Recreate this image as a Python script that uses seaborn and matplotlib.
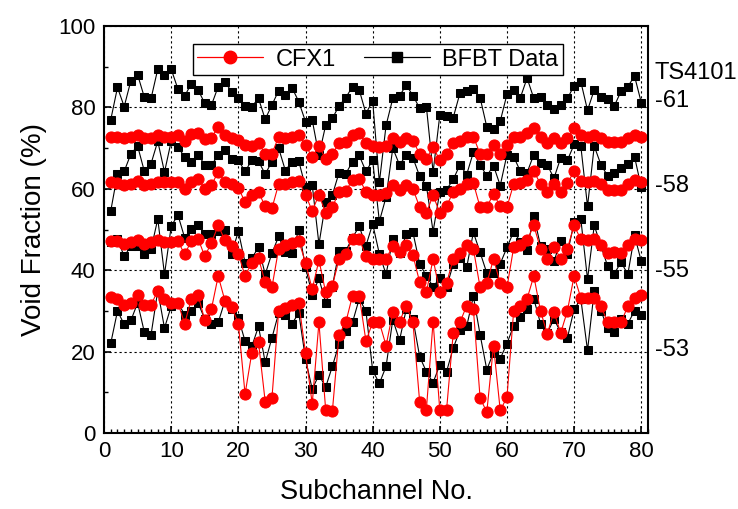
import numpy as np
import matplotlib
matplotlib.use("Agg")
import matplotlib.pyplot as plt
from matplotlib.lines import Line2D
from matplotlib.ticker import MultipleLocator
import seaborn as sns

subchannel = np.arange(1, 81)

# TS4101-61
bfbt_61 = [77.0, 84.9, 80.2, 86.6, 88.0, 82.5, 82.2, 89.4, 88.0, 89.4,
           84.5, 82.8, 85.8, 84.3, 81.0, 80.6, 85.1, 86.2, 83.9, 82.4,
           80.4, 80.2, 82.2, 77.1, 80.6, 84.1, 83.0, 84.8, 81.4, 76.5,
           76.9, 68.2, 75.6, 77.3, 80.4, 82.4, 85.1, 84.3, 78.5, 81.6,
           61.6, 75.6, 82.2, 82.8, 85.5, 82.9, 79.8, 80.2, 64.1, 78.1,
           77.9, 77.5, 83.5, 84.0, 84.5, 82.4, 75.2, 74.8, 76.6, 83.2,
           84.3, 82.4, 87.2, 82.2, 82.5, 80.7, 79.6, 80.7, 82.2, 85.3,
           86.3, 79.3, 84.3, 82.6, 82.0, 80.4, 84.0, 85.1, 87.7, 81.2]
cfx_61 = [72.8, 72.8, 72.4, 72.8, 73.2, 72.4, 72.6, 73.2, 72.8, 72.8,
          73.2, 71.8, 73.4, 73.6, 72.2, 72.6, 75.2, 73.2, 72.4, 71.9,
          70.7, 70.5, 71.2, 68.6, 68.6, 72.8, 72.4, 72.8, 73.2, 70.7,
          67.8, 70.5, 67.4, 68.6, 71.2, 71.4, 73.2, 73.6, 71.2, 70.5,
          70.3, 70.5, 72.6, 71.6, 72.6, 71.8, 68.6, 67.4, 70.3, 67.0,
          68.6, 71.2, 71.8, 72.8, 72.8, 68.6, 68.6, 70.7, 68.6, 70.7,
          72.8, 72.8, 73.6, 75.0, 72.8, 71.2, 72.6, 71.2, 72.6, 75.0,
          73.2, 72.8, 73.2, 72.6, 71.6, 71.4, 71.4, 72.6, 73.2, 72.8]

# TS4101-58
bfbt_58 = [54.6, 63.7, 64.3, 68.6, 70.5, 64.3, 66.2, 71.7, 64.1, 71.7,
           70.3, 67.8, 66.5, 68.4, 65.9, 65.9, 68.2, 69.6, 67.4, 67.0,
           64.3, 67.0, 66.8, 63.6, 66.7, 70.0, 64.5, 66.7, 66.8, 60.4,
           61.0, 46.4, 56.7, 58.5, 64.0, 63.7, 66.7, 68.2, 64.3, 67.0,
           52.0, 58.0, 70.0, 65.9, 68.2, 67.6, 63.1, 60.8, 49.5, 59.3,
           59.8, 62.3, 65.9, 63.5, 69.0, 65.9, 63.2, 65.7, 60.8, 68.4,
           67.9, 64.3, 64.0, 68.4, 66.4, 65.9, 62.6, 67.6, 67.0, 70.9,
           70.5, 55.7, 70.5, 65.9, 63.2, 64.0, 65.1, 66.0, 67.9, 60.4]
cfx_58 = [61.6, 61.5, 60.9, 61.2, 62.0, 60.9, 61.2, 61.7, 61.6, 61.6,
          61.6, 60.0, 61.7, 62.5, 60.0, 61.0, 64.1, 61.7, 61.2, 60.3,
          56.7, 58.4, 59.2, 55.7, 55.2, 61.2, 61.2, 61.7, 62.0, 58.5,
          54.6, 58.5, 54.1, 55.5, 59.3, 59.5, 62.2, 62.5, 59.3, 58.6,
          58.6, 59.1, 61.0, 59.7, 61.0, 60.0, 55.5, 54.1, 58.4, 54.1,
          55.7, 59.3, 60.0, 61.2, 61.4, 55.5, 55.5, 58.8, 55.7, 55.5,
          61.2, 61.4, 62.2, 64.3, 61.2, 59.3, 61.2, 59.3, 61.4, 64.3,
          62.0, 61.8, 62.0, 61.2, 59.7, 59.7, 59.7, 61.2, 62.2, 61.6]

# TS4101-55
bfbt_55 = [47.0, 47.7, 43.4, 46.0, 46.0, 44.0, 45.2, 52.6, 39.0, 50.8,
           53.6, 48.0, 50.2, 51.2, 48.8, 49.0, 49.6, 50.0, 44.0, 49.6,
           41.9, 43.0, 45.6, 39.0, 44.2, 48.3, 44.4, 44.2, 50.0, 40.7,
           34.0, 38.0, 32.0, 36.0, 44.8, 44.8, 48.0, 50.8, 46.0, 51.4,
           44.0, 39.0, 47.7, 44.2, 48.8, 49.3, 41.6, 38.6, 36.0, 38.0,
           35.8, 41.5, 43.0, 40.7, 49.3, 44.4, 39.3, 39.3, 41.6, 45.6,
           49.5, 47.0, 45.1, 53.4, 46.0, 45.3, 42.2, 47.2, 44.0, 51.8,
           52.6, 37.8, 51.0, 46.0, 41.0, 39.2, 42.0, 39.0, 48.6, 42.2]
cfx_55 = [47.2, 47.2, 46.5, 47.0, 47.5, 46.5, 47.0, 47.5, 47.0, 47.0,
          47.2, 43.9, 47.2, 47.8, 43.4, 46.8, 51.0, 47.4, 46.0, 44.0,
          38.6, 41.9, 43.0, 37.0, 35.8, 45.3, 46.1, 46.6, 47.2, 41.9,
          35.3, 42.5, 34.6, 36.2, 42.8, 44.0, 47.8, 47.8, 43.4, 42.8,
          42.8, 42.8, 46.0, 44.4, 46.1, 43.7, 37.1, 34.6, 42.8, 34.6,
          36.8, 42.8, 44.3, 46.1, 45.3, 35.8, 36.8, 42.8, 36.8, 35.8,
          45.6, 46.1, 47.4, 51.0, 45.3, 42.8, 45.8, 42.8, 45.3, 51.0,
          47.6, 47.4, 47.6, 46.1, 44.3, 44.4, 44.3, 46.1, 47.8, 47.4]

# TS4101-53
bfbt_53 = [22.1, 30.0, 26.7, 27.7, 32.0, 24.8, 24.2, 35.0, 25.8, 31.2,
           32.0, 29.1, 29.9, 32.0, 28.0, 26.7, 27.2, 32.5, 30.4, 28.3,
           22.6, 21.3, 26.2, 17.4, 23.4, 29.5, 29.1, 26.9, 29.5, 18.2,
           10.8, 14.3, 11.3, 16.4, 22.0, 25.0, 27.2, 33.0, 30.0, 15.4,
           12.2, 16.4, 27.9, 22.8, 30.4, 28.0, 18.8, 15.1, 12.4, 16.8,
           15.1, 20.9, 25.3, 26.2, 33.6, 24.2, 15.6, 19.8, 18.3, 22.0,
           26.4, 28.6, 30.4, 33.0, 26.9, 24.6, 28.0, 24.8, 23.4, 30.4,
           33.0, 20.3, 35.0, 30.0, 25.8, 24.8, 28.0, 26.9, 30.0, 29.1]
cfx_53 = [33.5, 33.0, 31.5, 32.0, 34.0, 31.5, 31.5, 35.0, 33.0, 32.0,
          32.0, 26.9, 33.0, 34.0, 27.7, 30.6, 38.6, 32.5, 31.0, 26.9,
          9.6, 19.7, 22.3, 7.7, 8.6, 30.0, 30.8, 31.4, 32.0, 19.7,
          7.2, 27.2, 5.8, 5.4, 24.2, 27.2, 33.8, 33.8, 22.6, 27.2,
          27.2, 21.5, 29.7, 27.4, 31.3, 27.2, 7.7, 5.8, 27.4, 5.6,
          5.6, 24.6, 27.2, 31.3, 30.5, 8.6, 5.2, 21.5, 5.6, 8.8,
          30.0, 31.2, 33.0, 38.6, 30.0, 24.4, 29.8, 24.6, 30.0, 38.6,
          33.2, 33.2, 33.2, 31.2, 27.2, 27.4, 27.2, 31.2, 33.2, 34.0]

case_labels = ["-61", "-58", "-55", "-53"]
label_y = [81.5, 60.7, 39.8, 20.5]

sns.set_style("ticks")
plt.rcParams['font.family'] = ['Liberation Sans', 'DejaVu Sans']
plt.rcParams.update({"text.color": "black", "axes.labelcolor": "black",
                     "xtick.color": "black", "ytick.color": "black"})

fig = plt.figure(figsize=(7.38, 5.09), dpi=100)
ax = fig.add_axes([0.141, 0.149, 0.737, 0.800])

for vals in [bfbt_61, bfbt_58, bfbt_55, bfbt_53]:
    sns.lineplot(x=subchannel, y=vals, ax=ax, color="black", linewidth=0.8,
                 marker="s", markersize=5.8, markeredgecolor="black", legend=False)
for vals in [cfx_61, cfx_58, cfx_55, cfx_53]:
    sns.lineplot(x=subchannel, y=vals, ax=ax, color="red", linewidth=0.8,
                 marker="o", markersize=8, markeredgecolor="red", legend=False)

ax.set_xlim(0, 81)
ax.set_ylim(0, 100)
ax.xaxis.set_major_locator(MultipleLocator(10))
ax.xaxis.set_minor_locator(MultipleLocator(1))
ax.yaxis.set_major_locator(MultipleLocator(20))
ax.yaxis.set_minor_locator(MultipleLocator(10))
ax.tick_params(which="both", direction="in", top=False, right=False, color="black")
ax.tick_params(which="major", length=5, width=1.2, labelsize=16, pad=6)
ax.tick_params(which="minor", length=3, width=1.0)
ax.grid(True, which="major", linestyle=(0, (2, 2.5)), color="black", linewidth=0.8)
for sp in ax.spines.values():
    sp.set_linewidth(1.5)
    sp.set_color("black")

ax.set_xlabel("Subchannel No.", fontsize=19.5, labelpad=12)
ax.set_ylabel("Void Fraction (%)", fontsize=20, labelpad=8)

ax.text(82.0, 88.4, "TS4101", fontsize=17, va="center", ha="left", clip_on=False)
for lab, yy in zip(case_labels, label_y):
    ax.text(82.0, yy, lab, fontsize=17, va="center", ha="left", clip_on=False)

handles = [Line2D([], [], color="red", linewidth=0.9, marker="o", markersize=9),
           Line2D([], [], color="black", linewidth=0.9, marker="s", markersize=6.5)]
leg = ax.legend(handles, ["CFX1", "BFBT Data"], loc="upper center",
                bbox_to_anchor=(0.503, 0.985), ncol=2, fontsize=17,
                frameon=True, fancybox=False, edgecolor="black",
                handlelength=2.8, columnspacing=1.2, borderpad=0.2,
                handletextpad=0.5)
leg.get_frame().set_linewidth(1.0)
leg.get_frame().set_alpha(1)

fig.savefig("out.png", dpi=100)
